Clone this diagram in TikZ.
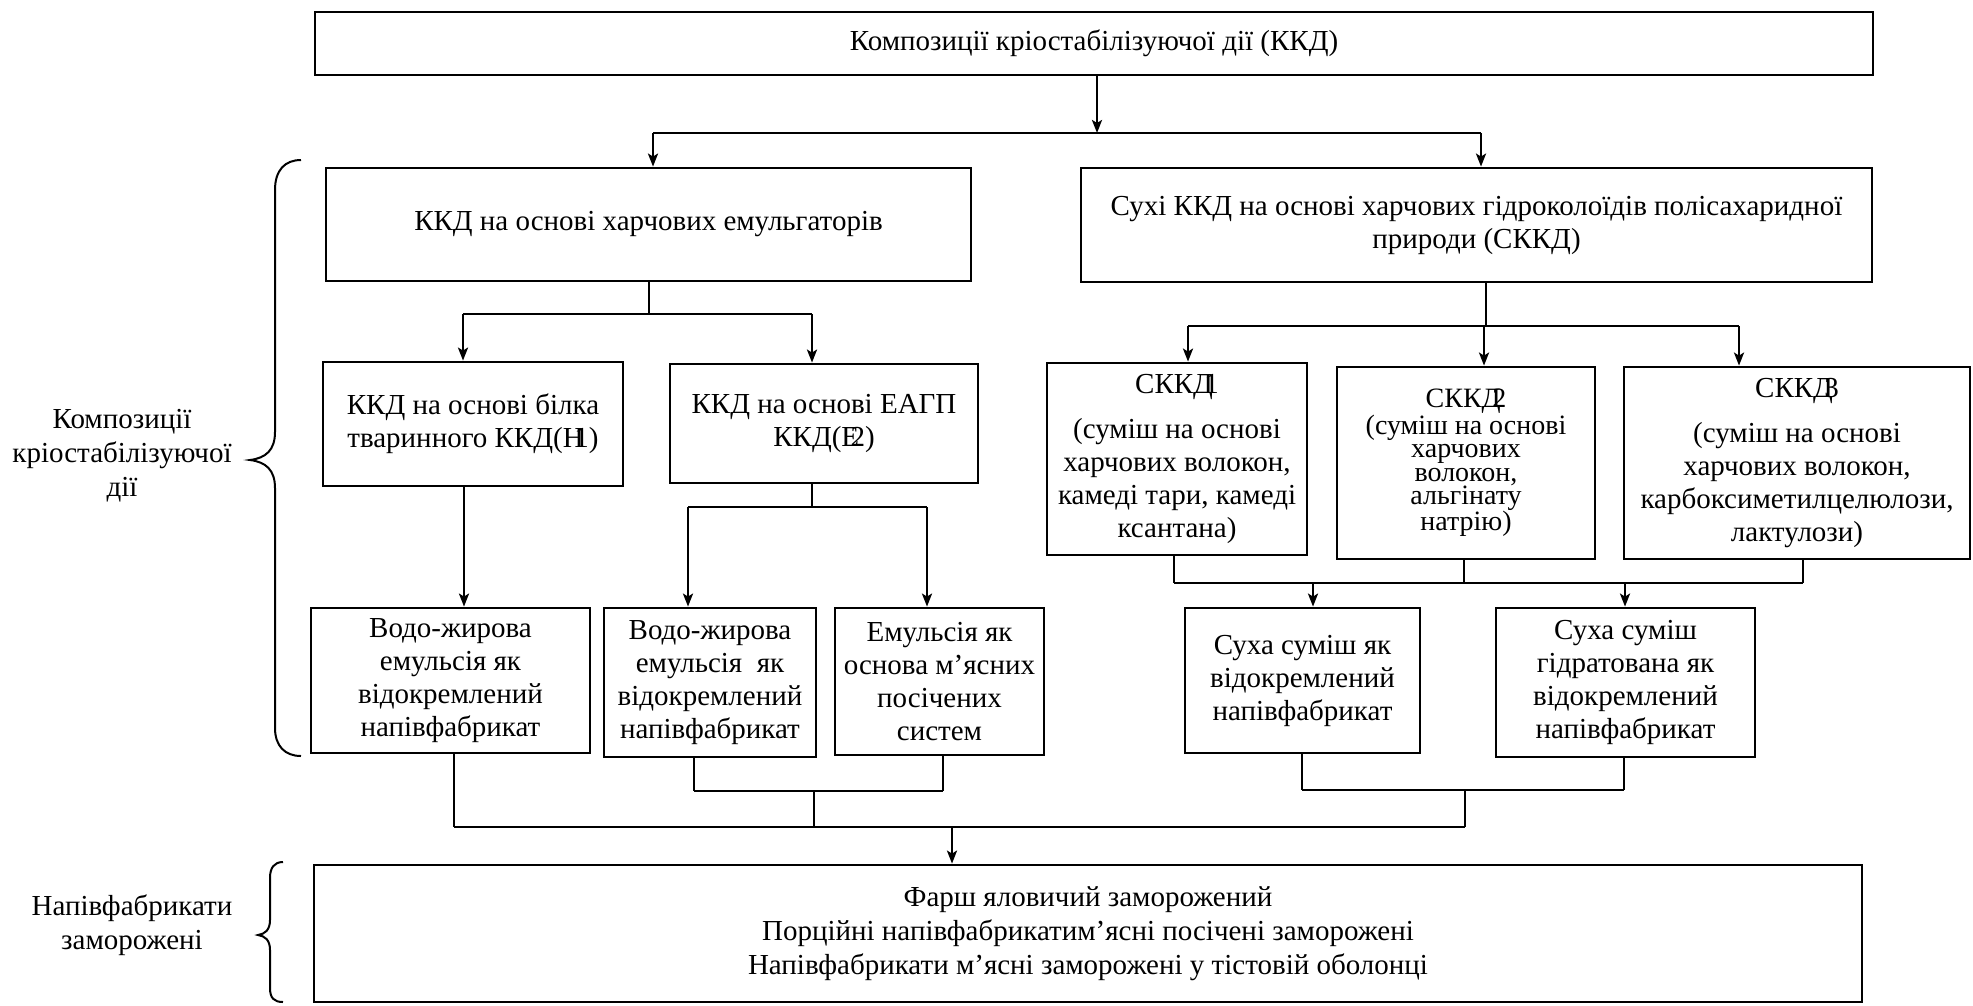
\documentclass[tikz,border=0pt]{standalone}
\usepackage{fontspec}
\setmainfont{Liberation Serif}
\usetikzlibrary{arrows.meta}
\begin{document}
\begin{tikzpicture}[x=1pt,y=-1pt,
  box/.style={draw, line width=2.8pt, align=center, inner sep=0pt,
    font=\fontsize{29}{33}\selectfont},
  tight/.style={font=\fontsize{28}{23.5}\selectfont},
  link/.style={line width=2.6pt},
  arr/.style={link, -{Stealth[length=13pt,width=10pt,inset=3pt]}},
  bracestyle/.style={line width=2pt},
  side/.style={align=center, inner sep=0pt, font=\fontsize{29}{34}\selectfont}]
\useasboundingbox (0,0) rectangle (1973,1005);

% ---------- boxes ----------
\node[box, minimum width=1558pt, minimum height=63pt] (top) at (1094,43.5)
  {Композиції кріостабілізуючої дії (ККД)};

\node[box, minimum width=645pt, minimum height=113pt] (emul) at (648.5,224.5)
  {ККД на основі харчових емульгаторів};
\node[box, minimum width=791pt, minimum height=114pt] (dry) at (1476.5,225)
  {Сухі ККД на основі харчових гідроколоїдів полісахаридної\\природи (СККД)};

\node[box, minimum width=300pt, minimum height=124pt] (h1) at (473,424)
  {ККД на основі білка\\тваринного ККД(Н\kern-.32em1)};
\node[box, minimum width=308pt, minimum height=119pt] (e2) at (824,423.5)
  {ККД на основі ЕАГП\\ККД(Е\kern-.3em2)};

\node[box, minimum width=260pt, minimum height=192pt] (s1) at (1177,459)
  {СККД\kern-.3em1\\[12pt](суміш на основі\\харчових волокон,\\камеді тари, камеді\\ксантана)};
\node[box, tight, minimum width=258pt, minimum height=192pt] (s2) at (1466,463)
  {СККД\kern-.3em2\\(суміш на основі\\харчових\\волокон,\\альгінату\\натрію)};
\node[box, minimum width=346pt, minimum height=192pt] (s3) at (1797,463)
  {СККД\kern-.3em3\\[12pt](суміш на основі\\харчових волокон,\\карбоксиметилцелюлози,\\лактулози)};

\node[box, minimum width=279pt, minimum height=145pt] (w1) at (450.5,680.5)
  {Водо-жирова\\емульсія як\\відокремлений\\напівфабрикат};
\node[box, minimum width=212pt, minimum height=149pt] (w2) at (710,682.5)
  {Водо-жирова\\емульсія~ як\\відокремлений\\напівфабрикат};
\node[box, minimum width=209pt, minimum height=147pt] (em) at (939.5,681.5)
  {Емульсія як\\основа м’ясних\\посічених\\систем};
\node[box, minimum width=235pt, minimum height=145pt] (d1) at (1302.5,680.5)
  {Суха суміш як\\відокремлений\\напівфабрикат};
\node[box, minimum width=259pt, minimum height=149pt] (d2) at (1625.5,682.5)
  {Суха суміш\\гідратована як\\відокремлений\\напівфабрикат};

\node[box, font=\fontsize{29}{34}\selectfont, minimum width=1548pt, minimum height=137pt] (bot) at (1088,933.5)
  {Фарш яловичий заморожений\\Порційні напівфабрикатим’ясні посічені заморожені\\Напівфабрикати м’ясні заморожені у тістовій оболонці};

% ---------- side labels and braces ----------
\node[side] (lab1) at (122,456) {Композиції\\кріостабілізуючої\\дії};
\node[side] (lab2) at (132,925) {Напівфабрикати\\заморожені};

\draw[bracestyle] (301,160) .. controls (285,160) and (275,170) .. (275,190)
  -- (275,432) .. controls (275,450) and (266,458) .. (250,460)
  .. controls (266,462) and (275,470) .. (275,488)
  -- (275,728) .. controls (275,746) and (285,756) .. (301,756);
\draw[bracestyle] (283,862) .. controls (274,862) and (270,868) .. (270,878)
  -- (270,920) .. controls (270,930) and (265,934) .. (258,935)
  .. controls (265,936) and (270,940) .. (270,950)
  -- (270,988) .. controls (270,998) and (274,1002) .. (283,1002);

% ---------- junction points ----------
\coordinate (jtop) at (1097,133);
\coordinate (jtopL) at (653,133);
\coordinate (jtopR) at (1481,133);

\coordinate (jem) at (649,314);
\coordinate (jemL) at (463,314);
\coordinate (jemR) at (812,314);

\coordinate (jdry) at (1486,326);
\coordinate (jdry1) at (1188,326);
\coordinate (jdry2) at (1484,326);
\coordinate (jdry3) at (1739,326);

\coordinate (xh1) at (464,0);
\coordinate (je2) at (812,507);
\coordinate (je2L) at (688,507);
\coordinate (je2R) at (927,507);

\coordinate (js1) at (1174,583);
\coordinate (js2) at (1464,583);
\coordinate (js3) at (1803,583);
\coordinate (jsA) at (1313,583);
\coordinate (jsB) at (1625,583);

\coordinate (jw1) at (454,827);
\coordinate (jw2) at (694,791);
\coordinate (jem2) at (943,791);
\coordinate (jwm) at (814,791);
\coordinate (jd1) at (1302,790);
\coordinate (jd2) at (1624,790);
\coordinate (jdm) at (1465,790);
\coordinate (jall) at (1465,827);
\coordinate (jbot) at (952,827);

% ---------- connectors ----------
\draw[arr] (top.south -| jtop) -- (jtop);
\draw[link] (jtopL) -- (jtopR);
\draw[arr] (jtopL) -- (jtopL |- emul.north);
\draw[arr] (jtopR) -- (jtopR |- dry.north);

\draw[link] (emul.south -| jem) -- (jem);
\draw[link] (jemL) -- (jemR);
\draw[arr] (jemL) -- (jemL |- h1.north);
\draw[arr] (jemR) -- (jemR |- e2.north);

\draw[link] (dry.south -| jdry) -- (jdry);
\draw[link] (jdry1) -- (jdry3);
\draw[arr] (jdry1) -- (jdry1 |- s1.north);
\draw[arr] (jdry2) -- (jdry2 |- s2.north);
\draw[arr] (jdry3) -- (jdry3 |- s3.north);

\draw[arr] (h1.south -| xh1) -- (w1.north -| xh1);

\draw[link] (e2.south -| je2) -- (je2);
\draw[link] (je2L) -- (je2R);
\draw[arr] (je2L) -- (je2L |- w2.north);
\draw[arr] (je2R) -- (je2R |- em.north);

\draw[link] (s1.south -| js1) -- (js1);
\draw[link] (s2.south -| js2) -- (js2);
\draw[link] (s3.south -| js3) -- (js3);
\draw[link] (js1) -- (js3);
\draw[arr] (jsA) -- (jsA |- d1.north);
\draw[arr] (jsB) -- (jsB |- d2.north);

\draw[link] (w1.south -| jw1) -- (jw1);
\draw[link] (w2.south -| jw2) -- (jw2);
\draw[link] (em.south -| jem2) -- (jem2);
\draw[link] (jw2) -- (jem2);
\draw[link] (jwm) -- (jwm |- jall);
\draw[link] (d1.south -| jd1) -- (jd1);
\draw[link] (d2.south -| jd2) -- (jd2);
\draw[link] (jd1) -- (jd2);
\draw[link] (jdm) -- (jall);
\draw[link] (jw1) -- (jall);
\draw[arr] (jbot) -- (jbot |- bot.north);
\end{tikzpicture}
\end{document}
